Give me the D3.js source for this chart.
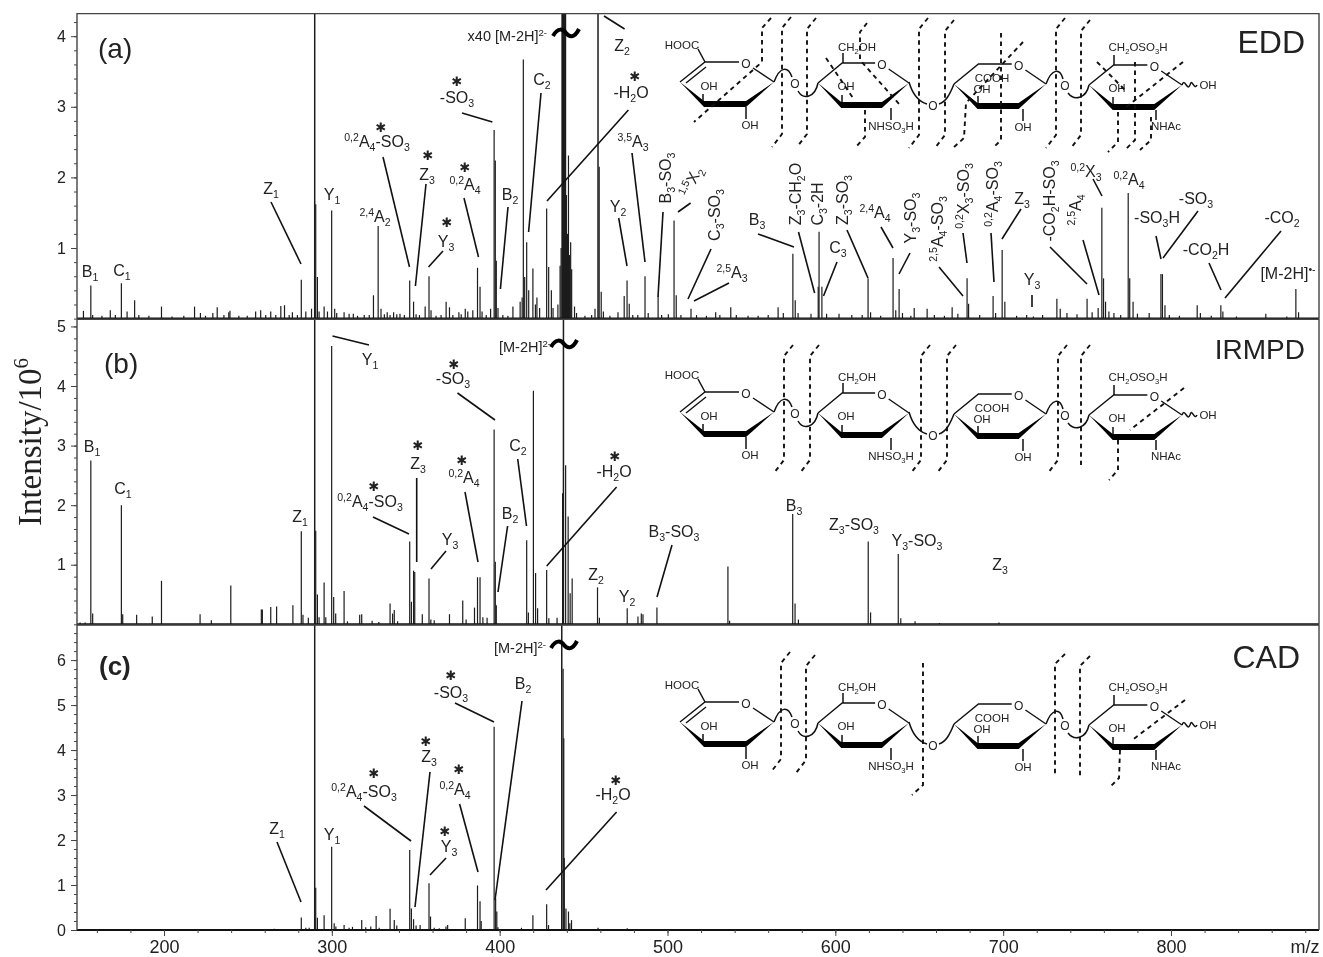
<!DOCTYPE html>
<html>
<head>
<meta charset="utf-8">
<script src="https://cdn.jsdelivr.net/npm/d3@7"></script>
<style>
html, body { margin: 0; padding: 0; background: #fff; }
svg { display: block; filter: blur(0.5px); }
text { font-family: "Liberation Sans", sans-serif; fill: #222; }
</style>
</head>
<body>
<svg id="chart" width="1323" height="957"></svg>
<script>
// peaks: [m/z, intensity in 10^6]
// values above the axis top are the peaks that run out of the panel
const peaksA = [
  [152,.11],[156.4,.47],[157.5,.05],[163,.04],[168,.12],[171,.05],[174.6,.5],[178,.1],[182.5,.26],[185,.05],[191,.04],[198.5,.17],
  [204.8,.03],[211.8,.04],[218.2,.17],[221.7,.08],[224.7,.04],[229.1,.08],[231.7,.16],[235.7,.05],[238.6,.09],[239.3,.11],[244.6,.04],[249.6,.04],
  [254.6,.1],[257.6,.12],[260.6,.05],[263.6,.1],[266.6,.05],[269.6,.18],[271.8,.19],[274.6,.05],[276.5,.09],[279.5,.05],[281.8,.55],[284.5,.1],[287.9,.14],
  [289.8,5],[290.4,1.62],[291.4,.59],[292.4,.1],[295.4,.17],[297.4,.1],[299.9,1.53],[301.7,.14],[302.9,.08],[307.3,.09],[310.3,.07],[312.8,.07],
  [315.3,.04],[319.3,.05],[322.3,.05],[324.8,.33],[327.6,1.31],[329.3,.14],[331.3,.06],[333,.09],[334.7,.05],[336.8,.09],[338.7,.06],[340.6,.07],
  [343.2,.05],[346.4,.54],[348.7,.24],[350.2,.06],[352.2,.05],[355.6,.17],[357.9,.6],[359.1,.12],[362.1,.04],[365.1,.05],[368.1,.24],[370.1,.16],[372.1,.05],
  [375.7,.09],[377.1,.06],[379.5,.14],[381,.1],[384,.12],[386.8,.72],[388.3,.45],[389.5,.1],[392,.05],[394.6,.14],[396.7,2.67],[397.4,2.24],[398,.82],[399,.15],
  [401.9,.05],[404.9,.04],[407.9,.17],[412.2,.24],[413.4,.3],[414.1,3.67],[414.9,.59],[416.1,1.08],[417.3,.4],[419.8,.71],[421.3,.2],[422.2,.3],[423.8,.15],
  [428,1.56],[429.2,.73],[430.8,.4],[431.8,.15],[434.7,.2],[436,.75],[436.6,1],[437.2,5],[437.6,5],[438,5],[438.4,5],[438.8,5],[439.2,5],[439.8,1.75],[440.4,1.2],[441,2.31],[441.6,.9],[442.3,1.08],[442.9,.7],
  [444.6,.17],[445.8,.08],[450.8,.04],[454.8,.05],[456.8,.14],[458.6,5],[459.3,2.15],[460.5,.38],[461.8,.1],[465.7,.04],[470.5,.09],[474.2,.32],[475.9,.54],[477.2,.21],[479.3,.05],
  [482.3,.05],[486.6,.6],[488.5,.08],[494.4,.31],[496.5,.05],[500.5,.06],[503.9,1.39],[505.2,.33],[508,.05],[514,.14],[517.3,.05],[523.2,.04],[528.7,.09],[531.2,.05],[537.7,.16],[541,.05],
  [548,.04],[554,.04],[560,.05],[565.9,.16],[569,.08],[574.7,.92],[576.1,.26],[577.8,.08],[585.5,.07],[589.8,.45],[590.3,1.23],[592,.45],[594.8,.07],[602.2,.07],[609.8,.05],
  [616,.05],[619.5,.57],[621,.09],[627,.04],[634.4,.86],[636,.12],[638,.42],[640,.08],[645,.04],[647,.15],[654.7,.14],[659,.05],[665,.04],[669.6,.16],[673,.07],[678.5,.57],[679.4,.21],
  [686,.05],[694,.32],[695.5,.08],[699.4,.97],[701,.24],[708,.04],[714,.05],[718,.03],[723.5,.05],[732,.28],[734,.14],[738,.08],[744,.06],[750,.28],[753,.09],[756.6,.15],
  [758.8,1.57],[759.8,.57],[761,.24],[763,.1],[766,.08],[770,.05],[774.5,1.78],[775.4,.57],[777.4,.24],[780,.07],[787,.08],[794,.63],[794.9,.63],[796.4,.19],[799,.05],
  [805,.04],[815.6,.19],[817.5,.08],[824,.04],[829.7,.19],[830.9,.1],[839,.03],[856.5,.07],[869,.03],[874.4,.42],[876,.09]
];
const peaksB = [
  [150,.03],[153,.03],[156.4,2.75],[157.5,.18],[174.6,2.0],[175.4,.17],[183.7,.16],[193,.13],[198.5,.73],[221.5,.17],[228.2,.07],[239.8,.65],
  [258,.25],[258.6,.25],[263.6,.29],[267.1,.3],[276.8,.32],[281.8,1.56],[282.8,.16],[286,.11],[289.8,6],[290.4,1.57],[291.4,.5],[292.4,.12],[295.4,.7],[296.4,.12],
  [299.9,4.67],[301.1,.46],[302.3,.18],[307.3,.56],[309.3,.05],[316.6,.16],[317.8,.17],[324,.06],[328,.04],[334.7,.35],[336.2,.18],[337.2,.24],[339.2,.05],
  [346.4,1.39],[347.4,.38],[348.7,.9],[349.4,.88],[353.9,.17],[357.9,.77],[359,.08],[361,.07],[370.1,.17],[378,.4],[380,.08],[385,.28],[386.8,.79],[388.3,.79],[390,.12],
  [392.5,.11],[396.7,3.27],[397.4,1.05],[398,.32],[416.1,1.41],[417.1,.2],[420.1,3.92],[421.4,.86],[422.6,.27],[428,.91],[429.3,.1],[434.2,.11],
  [437.5,2.2],[438,6],[439.3,2.67],[440.8,1.81],[442,.52],[443.2,.77],[458.3,.62],[459.4,.11],[476,.27],[482.4,.13],[484.4,.18],[485.4,.17],[493.7,.28],
  [536,.97],[537,.06],[574.6,1.85],[576,.35],[578,.08],[619.6,1.39],[621,.2],[637.5,1.18],[639,.1],[647.5,.05],[662,.02],[697.5,.03]
];
const peaksC = [
  [257.7,.02],[265.7,.03],[274.6,.02],[281.8,.28],[284.5,.05],[286.5,.05],[289.8,8],[290.4,.94],[291.4,.27],[295.4,.33],[299.9,1.85],[301.4,.15],[302.4,.08],[307.3,.11],[310.3,.05],
  [312.3,.07],[317.8,.22],[320.2,.06],[323.2,.08],[326.4,.31],[328.2,.05],[334.7,.47],[337.2,.22],[338.7,.1],[346.4,1.78],[347.4,.48],[348.7,.24],[350.2,.1],[352.6,.11],
  [357.9,1.04],[358.8,.3],[361,.05],[364,.04],[368,.08],[369,.11],[379.5,.26],[386.8,.99],[388.3,.64],[389,.2],[396.7,4.52],[397.6,.7],[398.3,.41],[399,.06],
  [413,.05],[419.8,.33],[428,.57],[429.1,.11],[437,8],[437.8,5.81],[438.2,4.26],[438.5,1.6],[439.5,.48],[441,.41],[441.8,.15],[442.8,.22],[458.6,.05],[476,.04]
];

const textAxisLabels = { x: "m/z", y: "Intensity/10", yExp: "6" };
const xTicks = [200, 300, 400, 500, 600, 700, 800];
const xMinor = d3.range(160, 881, 20);
const ticksA = [1, 2, 3, 4];
const ticksB = [1, 2, 3, 4, 5];
const ticksC = [0, 1, 2, 3, 4, 5, 6];

// callouts: text, x, baseline y, rotation
// ^{} is raised, _{} is lowered
const calloutsA = [
  ["B_{1}",90,277],["C_{1}",122,276],["Z_{1}",271,194],["Y_{1}",332,200],["^{2,4}A_{2}",375,222],
  ["^{0,2}A_{4}-SO_{3}",377,147],["Z_{3}",427,180],["^{0,2}A_{4}",465,190],["Y_{3}",446,247],["-SO_{3}",457,103],
  ["B_{2}",510,200],["C_{2}",542,85],["Z_{2}",622,51],["-H_{2}O",631,98],["^{3,5}A_{3}",633,147],["Y_{2}",618,212],
  ["B_{3}-SO_{3}",671,178,-90],["^{1,5}X_{2}",696,184,-65],["C_{3}-SO_{3}",720,215,-90],["^{2,5}A_{3}",732,278],["B_{3}",757,225],
  ["Z_{3}-CH_{2}O",801,194,-90],["C_{3}-2H",823,204,-90],["Z_{3}-SO_{3}",848,200,-90],["C_{3}",838,253],["^{2,4}A_{4}",875,218],
  ["Y_{3}-SO_{3}",916,218,-90],["^{2,5}A_{4}-SO_{3}",943,229,-90],["^{0,2}X_{3}-SO_{3}",969,196,-90],["^{0,2}A_{4}-SO_{3}",998,194,-90],
  ["Z_{3}",1022,204],["-CO_{2}H-SO_{3}",1055,201,-90],["^{2,5}A_{4}",1081,210,-90],["^{0,2}X_{3}",1086,177],["^{0,2}A_{4}",1129,185],
  ["-SO_{3}H",1157,223],["-SO_{3}",1196,204],["-CO_{2}H",1206,255],["-CO_{2}",1282,223],["Y_{3}",1032,285],["[M-2H]^{•-}",1288,279]
];
const calloutsB = [
  ["B_{1}",92,452],["C_{1}",123,494],["Z_{1}",300,522],["Y_{1}",370,365],["-SO_{3}",453,384],["Z_{3}",418,469],["^{0,2}A_{4}",464,483],
  ["^{0,2}A_{4}-SO_{3}",370,507],["Y_{3}",450,545],["B_{2}",510,519],["C_{2}",518,451],["-H_{2}O",614,477],["Z_{2}",596,580],["Y_{2}",627,602],
  ["B_{3}-SO_{3}",674,537],["B_{3}",794,511],["Z_{3}-SO_{3}",854,530],["Y_{3}-SO_{3}",917,546],["Z_{3}",1000,570]
];
const calloutsC = [
  ["-SO_{3}",451,698],["B_{2}",523,689],["Z_{3}",429,762],["^{0,2}A_{4}",455,795],["^{0,2}A_{4}-SO_{3}",364,797],["-H_{2}O",613,800],
  ["Y_{3}",449,852],["Z_{1}",277,834],["Y_{1}",332,840]
];
const starsA = [[381,127],[428,155],[465,167],[447,222],[457,81],[635,76]];
const starsB = [[454,364],[418,445],[462,460],[374,486],[615,456]];
const starsC = [[451,675],[426,741],[459,769],[374,773],[616,780],[445,831]];

const leadersA = [
  [271,202,301,264],[383,157,409.5,267],[426,184,415.4,286],[443,251,428.5,267],[464,198,478.5,257],[462,113,492.4,122],[508,207,500.4,289],
  [541,93,528.6,232],[628.4,110,547,201],[604,16,624.6,29],[632,153,645,262],[618.7,218,627,266],[663,212,658,297],[690.6,203,678,212],
  [711,249,688,299],[729,283,694,301],[758,234,794,247],[798.5,232,814.6,293],[837,262,823.5,296],[847,230,868,278],[881,227,893,248],
  [910,253,899,274],[939,267,963,296],[963,233,967,263],[991,233,994,282],[1021,209,1002,239],[1050,247,1087,284],
  [1083,240,1099,295],[1093,179,1102,196],[1156,236,1161,259],[1198,211,1163,258],[1209,263,1221,290],[1281,231,1225,298],[1032,295,1032,307]
];
const leadersB = [
  [332.5,336,369,345],[457.5,393,495,420],[373,517,409,534],[416.7,478,416.7,562],[446,551,431,569],[465,492,478,562],[507.6,526,498,592],
  [517.7,459,526.5,526],[616.6,487,546.7,566],[672,545,657,597]
];
const leadersC = [
  [455,703,494,722],[522,701,495,900],[364,806,411,841],[430,772,415,907],[446,858,430,875],[459.6,804,478,872],[616.6,812,546,890],[277,842,301,902]
];

// fragmentation cuts over the sugar drawing
const vCut = (x, t, b) => [[x + 9, t], [x, t + 11], [x, b - 13], [x - 10, b]];
const cutsA = [
  [[771,18],[762,28],[762,62],[694,122]], vCut(782,17,147), vCut(807,18,147),
  [[867,23],[860,32],[860,60],[900,105]], [[826,58],[853,98]], [[865,110],[865,137],[855,148]],
  vCut(919,18,148), vCut(945,20,148), [[1023,42],[966,103],[964,138],[953,148]], [[1001,33],[1001,140],[993,148]],
  vCut(1056,18,148), vCut(1081,20,148), [[1183,62],[1125,108]], [[1118,112],[1118,142],[1108,152]],
  [[1135,62],[1135,140],[1125,150]], [[1151,117],[1151,140],[1140,150]], [[1097,62],[1127,92]]
];
const cutsB = [
  vCut(784,345,473), vCut(810,345,473), vCut(921,345,473), vCut(947,345,473), vCut(1058,345,473),
  [[1090,345],[1081,356],[1081,465]], [[1118,440],[1118,470],[1109,480]], [[1184,388],[1130,430]]
];
const cutsC = [
  vCut(781,652,772), vCut(806,655,773), [[923,663],[923,785],[912,795]], [[1065,654],[1055,664],[1055,776]], [[1090,656],[1080,666],[1080,776]],
  [[1185,700],[1131,741]], [[1120,750],[1119,778],[1109,788]]
];

const svg = d3.select("#chart");
const inkColor = "#1c1c1c";
const frameColor = "#444";
const frameL = 77, frameR = 1319;

// one label with raised / lowered runs, built from real tspans
function label(g, str, x, y, rot, size, anchor) {
  size = size || 16;
  const t = g.append("text")
    .attr("font-size", size)
    .attr("text-anchor", anchor || "middle")
    .attr("transform", "translate(" + x + "," + y + ") rotate(" + (rot || 0) + ")");
  const parts = str.split(/([\^_]\{[^}]*\})/).filter(s => s.length);
  let shift = 0;
  parts.forEach(p => {
    let want = 0, fs = size, txt = p;
    if (p[0] === "^" && p[1] === "{") { want = -size * 0.38; fs = size * 0.66; txt = p.slice(2, -1); }
    if (p[0] === "_" && p[1] === "{") { want = size * 0.26; fs = size * 0.66; txt = p.slice(2, -1); }
    t.append("tspan").attr("dy", want - shift).attr("font-size", fs).text(txt);
    shift = want;
  });
  return t;
}

const x = d3.scaleLinear().domain([200, 800]).range([164, 1171]);

function drawPanel(cfg) {
  const y = d3.scaleLinear().domain([0, cfg.top]).range([cfg.base, cfg.base - 305]).clamp(true);
  const g = svg.append("g");

  // peaks
  g.selectAll("line.peak").data(cfg.peaks).enter().append("line")
    .attr("class", "peak")
    .attr("x1", d => x(d[0])).attr("x2", d => x(d[0]))
    .attr("y1", y(0)).attr("y2", d => y(d[1]))
    .attr("stroke", inkColor).attr("stroke-width", d => d[1] > cfg.top ? 1.5 : 1.2);

  // baseline and frame
  g.append("line").attr("x1", frameL).attr("x2", frameR).attr("y1", y(0)).attr("y2", y(0))
    .attr("stroke", "#111").attr("stroke-width", 2);
  g.append("path").attr("fill", "none").attr("stroke", frameColor).attr("stroke-width", 1.4)
    .attr("d", "M" + frameL + "," + cfg.base + "V" + (cfg.base - 305) + "H" + frameR + "V" + cfg.base);

  // y axis, minor then major
  const minor = d3.range(0, cfg.top, 0.2);
  const axMinor = d3.axisLeft(y).tickValues(minor).tickSize(3).tickFormat("");
  const axMajor = d3.axisLeft(y).tickValues(cfg.ticks).tickSize(6).tickPadding(5).tickFormat(d3.format("d"));
  [axMinor, axMajor].forEach(ax => {
    const a = g.append("g").attr("transform", "translate(" + frameL + ",0)").call(ax);
    a.select(".domain").remove();
    a.selectAll("line").attr("stroke", frameColor);
    a.selectAll("text").attr("font-size", 16).style("font-family", "Liberation Sans").attr("fill", "#333");
  });

  // callouts
  cfg.leaders.forEach(l => {
    g.append("line").attr("x1", l[0]).attr("y1", l[1]).attr("x2", l[2]).attr("y2", l[3])
      .attr("stroke", "#111").attr("stroke-width", 1.6);
  });
  cfg.callouts.forEach(c => label(g, c[0], c[1], c[2], c[3] || 0, 16));
  cfg.stars.forEach(s => {
    g.append("text").attr("x", s[0]).attr("y", s[1] + 5).attr("text-anchor", "middle")
      .attr("font-size", 13).style("font-family", "DejaVu Sans").text("\u2731");
  });

  // precursor label and axis break
  label(g, cfg.parent, cfg.parentX, cfg.parentY, 0, 14.5, "end");
  g.append("path").attr("transform", "translate(" + cfg.breakX + "," + cfg.breakY + ")")
    .attr("d", "M-13,3C-8,-6 -3,-4 0,0C3,4 8,6 13,-4")
    .attr("fill", "none").attr("stroke", "#000").attr("stroke-width", 4);

  // panel letter and method name
  label(g, cfg.letter, cfg.letterX, cfg.letterY, 0, cfg.letterBold ? 26 : 28, "start").attr("font-weight", cfg.letterBold ? "bold" : null);
  label(g, cfg.name, cfg.nameX, cfg.nameY, 0, cfg.nameSize, "end");

  drawStructure(g, cfg.ringY);
  const cutLine = d3.line();
  cfg.cuts.forEach(c => {
    g.append("path").attr("d", cutLine(c)).attr("fill", "none")
      .attr("stroke", "#111").attr("stroke-width", 1.9).attr("stroke-dasharray", "4.5,4");
  });
  return y;
}

function ring(g, x0, y0, w, dbl) {
  const s = w / 94;
  const px = v => x0 + v * s;
  const d = g.append("g");
  d.append("path").attr("fill", "none").attr("stroke", "#111").attr("stroke-width", 1.4)
    .attr("d", "M" + px(0) + "," + y0 + "L" + px(25) + "," + (y0 - 20) + "L" + px(59) + "," + (y0 - 20)
      + "M" + px(73) + "," + (y0 - 14) + "L" + px(94) + "," + y0);
  if (dbl) {
    d.append("path").attr("fill", "none").attr("stroke", "#111").attr("stroke-width", 1.4)
      .attr("d", "M" + px(6) + "," + (y0 + 1) + "L" + px(26) + "," + (y0 - 15));
  }
  d.append("path").attr("fill", "#000")
    .attr("d", "M" + px(0) + "," + y0 + "L" + px(24) + "," + (y0 + 19) + "L" + px(66) + "," + (y0 + 19) + "L" + px(94) + "," + y0
      + "L" + px(66) + "," + (y0 + 25) + "L" + px(24) + "," + (y0 + 25) + "Z");
  label(d, "O", px(66), y0 - 14, 0, 12);
}

function drawStructure(g, y0) {
  const s = g.append("g");
  ring(s, 680, y0, 94, true);
  ring(s, 818, y0 + 1, 91);
  ring(s, 954, y0 + 2, 92);
  ring(s, 1089, y0 + 3, 93);

  // glycosidic links, up-over and down-under
  s.append("path").attr("fill", "none").attr("stroke", "#111").attr("stroke-width", 1.5)
    .attr("d", "M774," + y0 + "C780," + (y0 - 16) + " 788," + (y0 - 16) + " 792," + (y0 - 5)
      + "M798," + (y0 + 9) + "C803," + (y0 + 18) + " 815," + (y0 + 16) + " 818," + (y0 + 1)
      + "M909," + y0 + "C913," + (y0 + 14) + " 920," + (y0 + 20) + " 927," + (y0 + 22)
      + "M939," + (y0 + 22) + "C946," + (y0 + 20) + " 950," + (y0 + 12) + " 954," + (y0 + 2)
      + "M1046," + (y0 + 2) + "C1052," + (y0 - 14) + " 1060," + (y0 - 14) + " 1063," + (y0 - 3)
      + "M1068," + (y0 + 11) + "C1074," + (y0 + 19) + " 1086," + (y0 + 17) + " 1089," + (y0 + 3)
      + "M1182," + (y0 + 3) + "C1185," + (y0 - 5) + " 1187," + (y0 + 10) + " 1190," + (y0 + 3)
      + "C1192," + (y0 - 5) + " 1194," + (y0 + 9) + " 1197," + (y0 + 3)
      // stems
      + "M705," + (y0 - 20) + "L698," + (y0 - 33) + "M746," + (y0 + 25) + "V" + (y0 + 37)
      + "M843," + (y0 - 19) + "V" + (y0 - 29) + "M891," + (y0 + 26) + "V" + (y0 + 38)
      + "M1023," + (y0 + 27) + "V" + (y0 + 39) + "M1114," + (y0 - 17) + "V" + (y0 - 27) + "M1156," + (y0 + 28) + "V" + (y0 + 38)
      + "M703," + (y0 + 19) + "V" + (y0 + 12) + "M842," + (y0 + 20) + "V" + (y0 + 13) + "M978," + (y0 + 21) + "V" + (y0 + 14) + "M1113," + (y0 + 22) + "V" + (y0 + 15));

  label(s, "O", 795, y0 + 6, 0, 12);
  label(s, "O", 933, y0 + 28, 0, 12);
  label(s, "O", 1065, y0 + 8, 0, 12);

  const subs = [
    ["HOOC",682,-33],["OH",709,8],["OH",750,47],["CH_{2}OH",857,-31],["OH",846,8],["NHSO_{3}H",891,48],
    ["COOH",992,0],["OH",982,11],["OH",1023,49],["CH_{2}OSO_{3}H",1138,-31],["OH",1117,10],["NHAc",1166,48],["OH",1208,7]
  ];
  subs.forEach(t => label(s, t[0], t[1], y0 + t[2], 0, 11.5));
}

drawPanel({ peaks: peaksA, top: 4.32, base: 318.6, ticks: ticksA, callouts: calloutsA, stars: starsA, leaders: leadersA, cuts: cutsA,
  parent: "x40 [M-2H]^{2-}", parentX: 547, parentY: 41, breakX: 566, breakY: 33,
  letter: "(a)", letterX: 98, letterY: 58, name: "EDD", nameX: 1305, nameY: 53, nameSize: 32, ringY: 82 });
drawPanel({ peaks: peaksB, top: 5.12, base: 624.3, ticks: ticksB, callouts: calloutsB, stars: starsB, leaders: leadersB, cuts: cutsB,
  parent: "[M-2H]^{2-}", parentX: 551, parentY: 352, breakX: 564, breakY: 344,
  letter: "(b)", letterX: 104, letterY: 373, name: "IRMPD", nameX: 1305, nameY: 359, nameSize: 28, ringY: 412 });
drawPanel({ peaks: peaksC, top: 6.78, base: 930, ticks: ticksC, callouts: calloutsC, stars: starsC, leaders: leadersC, cuts: cutsC,
  parent: "[M-2H]^{2-}", parentX: 546, parentY: 653, breakX: 564, breakY: 645,
  letter: "(c)", letterX: 99, letterY: 675, letterBold: true, name: "CAD", nameX: 1300, nameY: 668, nameSize: 32, ringY: 722 });

// shared x axis under the last panel
[d3.axisBottom(x).tickValues(xMinor).tickSize(3).tickFormat(""),
 d3.axisBottom(x).tickValues(xTicks).tickSize(6).tickPadding(4).tickFormat(d3.format("d"))].forEach(a => {
  const ax = svg.append("g").attr("transform", "translate(0,930)").call(a);
  ax.select(".domain").remove();
  ax.selectAll("line").attr("stroke", frameColor);
  ax.selectAll("text").attr("font-size", 18).style("font-family", "Liberation Sans").attr("fill", "#333");
});
label(svg, textAxisLabels.x, 1305, 953, 0, 18);

// y title in serif
const yt = svg.append("text").attr("transform", "translate(41,442) rotate(-90)")
  .attr("text-anchor", "middle").attr("font-size", 33).style("font-family", "Liberation Serif");
yt.append("tspan").text(textAxisLabels.y);
yt.append("tspan").attr("dy", -13).attr("font-size", 21).text(textAxisLabels.yExp);
</script>
</body>
</html>
